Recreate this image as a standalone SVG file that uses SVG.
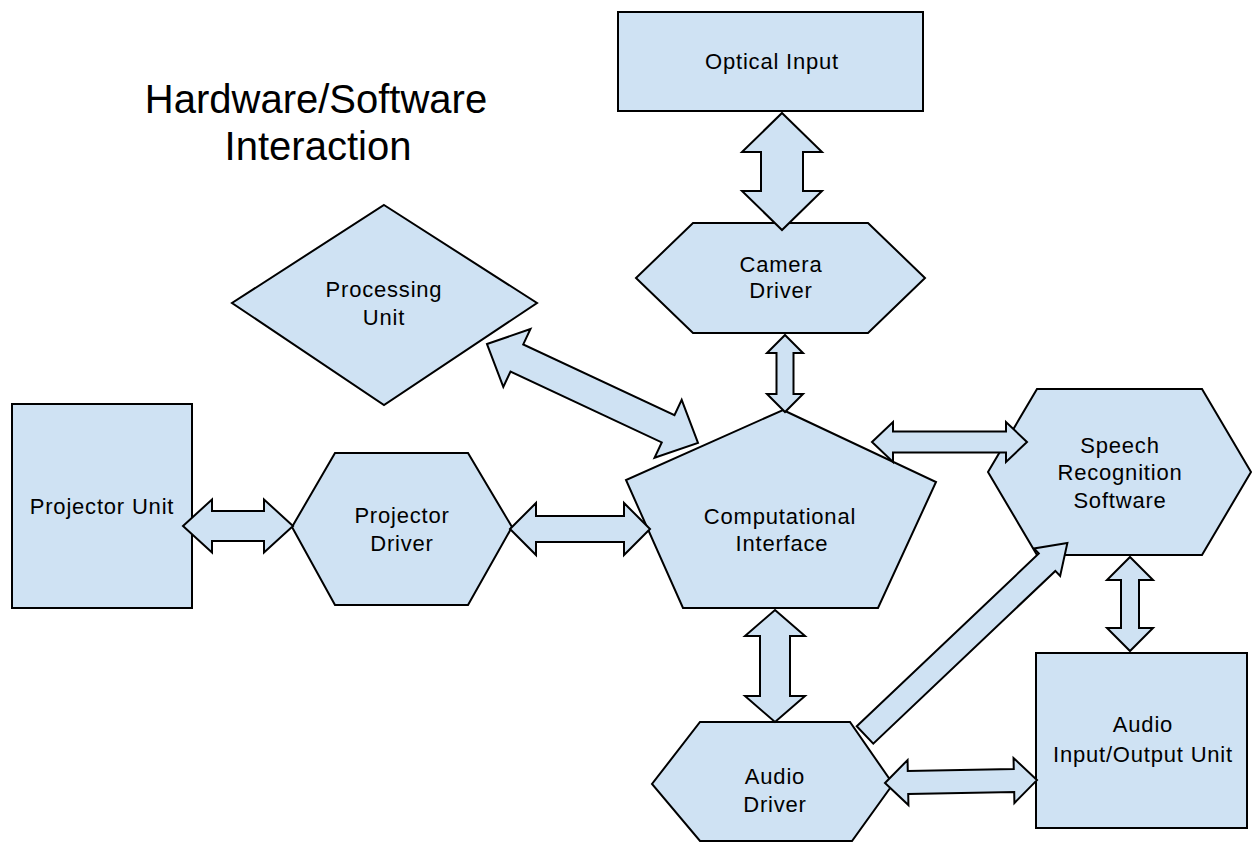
<svg xmlns="http://www.w3.org/2000/svg" width="1253" height="844" viewBox="0 0 1253 844">
<style>
.n{fill:#cfe2f3;stroke:#000;stroke-width:2;stroke-linejoin:miter}
.a{fill:#cfe2f3;stroke:#000;stroke-width:2;stroke-linejoin:miter}
.t{font-family:"Liberation Sans",Arial,sans-serif;font-size:22px;letter-spacing:0.8px;fill:#000;text-anchor:middle}
.h{font-family:"Liberation Sans",Arial,sans-serif;font-size:40px;fill:#000;text-anchor:middle}
</style>
<rect width="1253" height="844" fill="#fff"/>
<g id="title">
<text class="h" x="316" y="113">Hardware/Software</text>
<text class="h" x="318" y="160">Interaction</text>
</g>
<g id="optical-input">
<rect class="n" x="618" y="12" width="305" height="99"/>
<text class="t" x="772" y="69">Optical Input</text>
</g>
<g id="camera-driver">
<polygon class="n" points="693,223 868,223 925,278 868,333 693,333 636,278"/>
<text class="t" x="781" y="272">Camera</text>
<text class="t" x="781" y="298">Driver</text>
</g>
<g id="processing-unit">
<polygon class="n" points="384,205 537,303 384,405 232,303"/>
<text class="t" x="384" y="297">Processing</text>
<text class="t" x="384" y="325">Unit</text>
</g>
<g id="projector-unit">
<rect class="n" x="12" y="404" width="180" height="204"/>
<text class="t" x="102" y="514">Projector Unit</text>
</g>
<g id="projector-driver">
<polygon class="n" points="335,453 468,453 512,527 468,605 335,605 292,527"/>
<text class="t" x="402" y="523">Projector</text>
<text class="t" x="402" y="551">Driver</text>
</g>
<g id="computational-interface">
<polygon class="n" points="783,410 936,482 878,608 683,608 626,480"/>
<text class="t" x="780" y="524">Computational</text>
<text class="t" x="782" y="551">Interface</text>
</g>
<g id="speech-recognition">
<polygon class="n" points="1037,389 1202,389 1251,472 1202,555 1037,555 988,472"/>
<text class="t" x="1120" y="453">Speech</text>
<text class="t" x="1120" y="480">Recognition</text>
<text class="t" x="1120" y="508">Software</text>
</g>
<g id="audio-driver">
<polygon class="n" points="700,722 850,722 893,784 852,841 700,841 652,784"/>
<text class="t" x="775" y="784">Audio</text>
<text class="t" x="775" y="812">Driver</text>
</g>
<g id="audio-io">
<rect class="n" x="1036" y="653" width="211" height="175"/>
<text class="t" x="1143" y="732">Audio</text>
<text class="t" x="1143" y="762">Input/Output Unit</text>
</g>
<g id="connectors">
<polygon class="a" transform="translate(782,113) rotate(90)" points="0,0 39,-40 39,-21 78,-21 78,-40 117,0 78,40 78,21 39,21 39,40"/>
<polygon class="a" transform="translate(785,335) rotate(90)" points="0,0 18,-18 18,-8.5 59,-8.5 59,-18 77,0 59,18 59,8.5 18,8.5 18,18"/>
<polygon class="a" transform="translate(487,344) rotate(25.1)" points="0,0 33,-32 33,-15 200,-15 200,-32 233,0 200,32 200,15 33,15 33,32"/>
<polygon class="a" transform="translate(183,526)" points="0,0 29,-26.5 29,-15 81,-15 81,-26.5 110,0 81,26.5 81,15 29,15 29,26.5"/>
<polygon class="a" transform="translate(510,529)" points="0,0 26,-26 26,-13 114,-13 114,-26 140,0 114,26 114,13 26,13 26,26"/>
<polygon class="a" transform="translate(872,442)" points="0,0 21,-20 21,-10.5 134,-10.5 134,-20 155,0 134,20 134,10.5 21,10.5 21,20"/>
<polygon class="a" transform="translate(775,610) rotate(90)" points="0,0 26,-30 26,-15 86,-15 86,-30 112,0 86,30 86,15 26,15 26,30"/>
<polygon class="a" transform="translate(1130,557) rotate(90)" points="0,0 23,-23 23,-9 71,-9 71,-23 94,0 71,23 71,9 23,9 23,23"/>
<polygon class="a" transform="translate(885,783) rotate(-1.1)" points="0,0 23,-22.5 23,-11.5 129,-11.5 129,-22.5 152,0 129,22.5 129,11.5 23,11.5 23,22.5"/>
<polygon class="a" transform="translate(865,735) rotate(-43.5)" points="0,-12 251,-12 251,-19 279,0 251,19 251,12 0,12"/>
</g>
</svg>
